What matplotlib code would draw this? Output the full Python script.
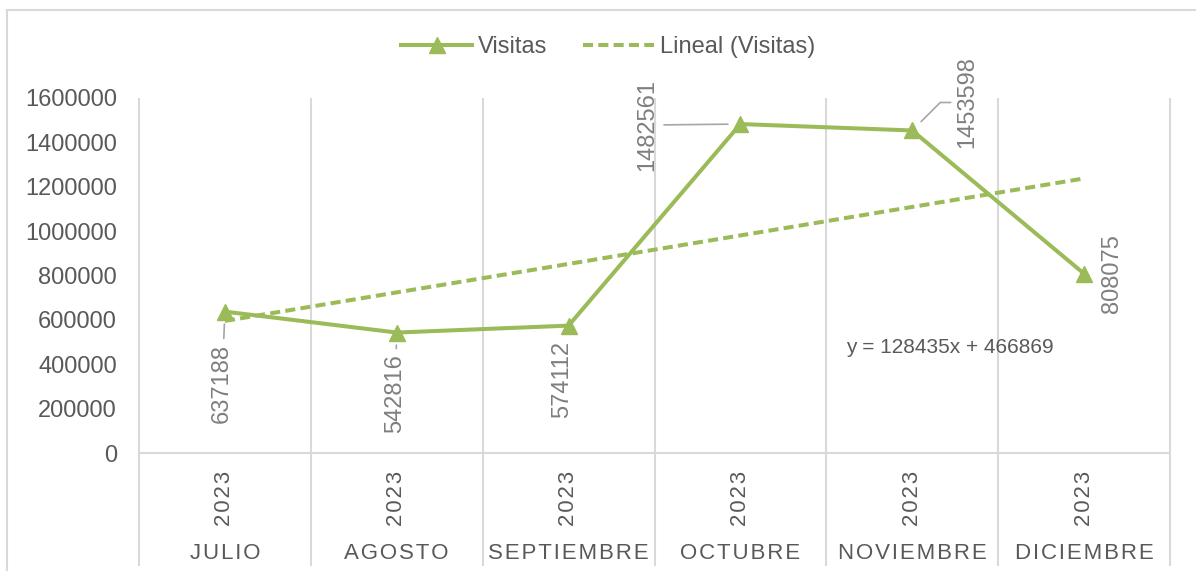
import numpy as np
import matplotlib
matplotlib.use('Agg')
import matplotlib.pyplot as plt
from matplotlib.patches import Rectangle

# datos del grafico
meses = ['JULIO', 'AGOSTO', 'SEPTIEMBRE', 'OCTUBRE', 'NOVIEMBRE', 'DICIEMBRE']
anios = ['2023', '2023', '2023', '2023', '2023', '2023']
visitas = [637188, 542816, 574112, 1482561, 1453598, 808075]
yticks = [0, 200000, 400000, 600000, 800000, 1000000, 1200000, 1400000, 1600000]

# posicion de las etiquetas de datos (pixeles respecto al punto) y si llevan linea guia
offsets = [(-3, -72), (-2, -61), (-6, -54), (-93, -1), (55, 28), (28, 0)]
guias = [True, True, False, True, True, False]

verde = '#9BBB59'
gris = '#595959'
gris_claro = '#D9D9D9'

plt.rcParams['font.family'] = ['Liberation Sans', 'DejaVu Sans']

fig = plt.figure(figsize=(11.96, 5.71), dpi=100)
ax = fig.add_axes([139/1196, 118/571, (1170-139)/1196, 355/571])

x = np.arange(1, len(visitas) + 1)
ax.plot(x, visitas, color=verde, lw=2.9, marker='^', ms=12, label='Visitas', zorder=3)

# linea de tendencia (minimos cuadrados)
m, b = np.polyfit(x, visitas, 1)
ax.plot(x, m*x + b, color=verde, lw=2.9, ls=(0, (2.5, 1.3)), label='Lineal (Visitas)', zorder=2)
ax.text(0.686, 0.296, 'y = %dx + %d' % (round(m), round(b)), transform=ax.transAxes,
        fontsize=15, color=gris, va='center', ha='left')

ax.set_xlim(0.5, len(visitas) + 0.5)
ax.set_ylim(0, 1600000)
ax.set_yticks(yticks)
ax.set_yticklabels([str(v) for v in yticks])
ax.tick_params(axis='y', length=0, labelsize=17, labelcolor=gris, pad=16)
ax.set_xticks([])
for s in ['top', 'right', 'left']:
    ax.spines[s].set_visible(False)
ax.spines['bottom'].set_color(gris_claro)
ax.spines['bottom'].set_linewidth(1.5)

# separadores de categorias
ax.vlines(np.arange(0.5, len(visitas) + 1), -0.318, 1, transform=ax.get_xaxis_transform(),
          colors=gris_claro, lw=1.5, clip_on=False, zorder=0)

hs = '\u200a'
for xi, mes, an in zip(x, meses, anios):
    ax.text(xi, -0.127, hs.join(an), transform=ax.get_xaxis_transform(), rotation=90,
            ha='center', va='center', fontsize=16, color=gris)
    ax.text(xi, -0.282, hs.join(mes), transform=ax.get_xaxis_transform(),
            ha='center', va='center', fontsize=16, color=gris)

# etiquetas de datos
for xi, v, off, g in zip(x, visitas, offsets, guias):
    props = None
    if g:
        props = dict(arrowstyle='-', color='#A6A6A6', lw=1.2, shrinkA=2, shrinkB=9)
        if off[1] > 10:
            props['connectionstyle'] = 'angle,angleA=0,angleB=45,rad=0'
    ax.annotate(str(v), (xi, v), xytext=off, textcoords='offset pixels', rotation=90,
                ha='center', va='center', fontsize=17, color='#7F7F7F', arrowprops=props)

ax.legend(loc='center', bbox_to_anchor=(0.455, (571-47-118)/355), ncol=2, frameon=False,
          fontsize=17, labelcolor=gris, handlelength=3, handletextpad=0.25, columnspacing=1.5)

fig.patches.append(Rectangle((7/1196, -0.1), 1.2, (571-10)/571 + 0.1, transform=fig.transFigure,
                             fill=False, edgecolor=gris_claro, lw=1.5))

fig.savefig('out.png', dpi=100)
